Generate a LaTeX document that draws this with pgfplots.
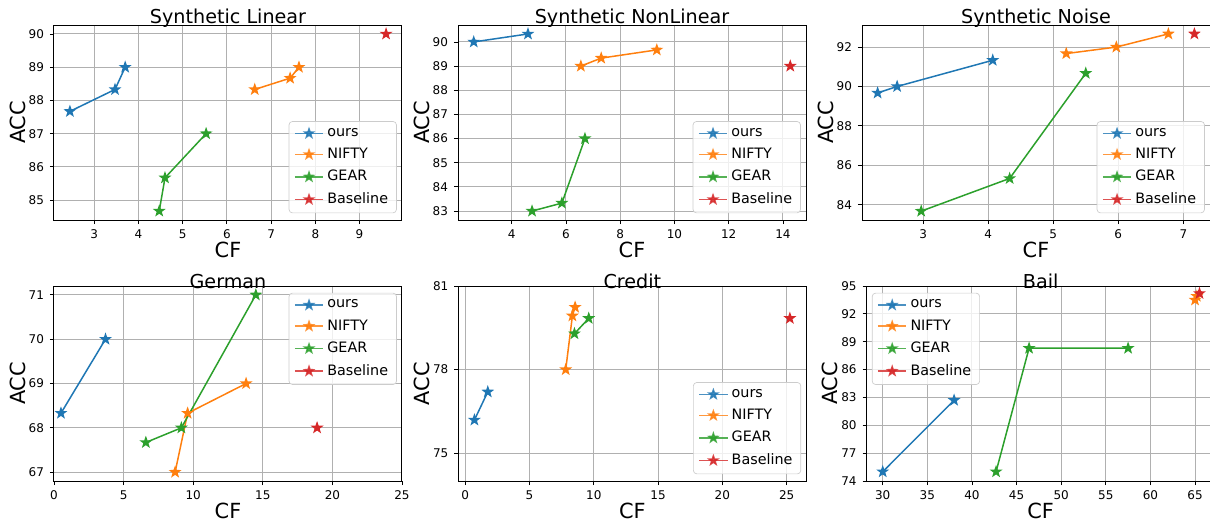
\documentclass[border=0pt]{standalone}
\usepackage{fontspec}
\setmainfont{DejaVu Sans}
\usepackage{pgfplots}
\pgfplotsset{compat=1.18}

\definecolor{c0}{HTML}{1F77B4}
\definecolor{c1}{HTML}{FF7F0E}
\definecolor{c2}{HTML}{2CA02C}
\definecolor{c3}{HTML}{D62728}
\definecolor{gridc}{RGB}{176,176,176}

% filled five-point star, like matplotlib's '*'
\pgfdeclareplotmark{fstar}{%
  \pgfpathmoveto{\pgfpointpolar{90}{\pgfplotmarksize}}%
  \pgfpathlineto{\pgfpointpolar{126}{0.4\pgfplotmarksize}}%
  \pgfpathlineto{\pgfpointpolar{162}{\pgfplotmarksize}}%
  \pgfpathlineto{\pgfpointpolar{198}{0.4\pgfplotmarksize}}%
  \pgfpathlineto{\pgfpointpolar{234}{\pgfplotmarksize}}%
  \pgfpathlineto{\pgfpointpolar{270}{0.4\pgfplotmarksize}}%
  \pgfpathlineto{\pgfpointpolar{306}{\pgfplotmarksize}}%
  \pgfpathlineto{\pgfpointpolar{342}{0.4\pgfplotmarksize}}%
  \pgfpathlineto{\pgfpointpolar{18}{\pgfplotmarksize}}%
  \pgfpathlineto{\pgfpointpolar{54}{0.4\pgfplotmarksize}}%
  \pgfpathclose
  \pgfusepathqfillstroke
}

\pgfplotsset{
  panel/.style={
    scale only axis,
    width=208.8pt, height=117pt,
    /pgf/number format/assume math mode=true,
    tick label style={font=\fontsize{7.2}{8}\selectfont},
    label style={font=\fontsize{12.5}{14}\selectfont},
    title style={font=\fontsize{11.5}{13}\selectfont, yshift=-11pt},
    xlabel={CF}, ylabel={ACC},
    xlabel style={yshift=5pt},
    ylabel style={yshift=-5pt},
    grid=major,
    major grid style={gridc, line width=0.6pt},
    axis line style={line width=0.6pt},
    tick pos=left, tick align=outside,
    major tick length=2.5pt,
    every tick/.style={black, line width=0.5pt},
    legend cell align=left,
    legend style={font=\fontsize{8.6}{10.5}\selectfont, draw=black!20,
      rounded corners=2pt, fill=white, fill opacity=0.8, text opacity=1,
      row sep=1.6pt, inner xsep=3pt, inner ysep=2pt},
    legend image post style={opacity=0.8},
    every axis plot/.append style={line width=0.9pt, mark=fstar, mark size=2.7pt},
  },
  se/.style={legend pos=south east, legend style={at={(0.985,0.035)}}},
}

\begin{document}
\begin{tikzpicture}
\useasboundingbox (0,0) rectangle (726pt,311.4pt);

% ---- Synthetic Linear
\begin{axis}[panel, se, at={(32.4pt,179.4pt)}, anchor=south west,
  title={Synthetic Linear},
  xmin=2.09, xmax=9.96, ymin=84.4, ymax=90.27,
  xtick={3,4,...,9}, ytick={85,86,...,90}]
\addplot[c0] coordinates {(2.45,87.67) (3.47,88.33) (3.70,89.0)};
\addplot[c1] coordinates {(6.63,88.33) (7.43,88.67) (7.63,89.0)};
\addplot[c2] coordinates {(4.47,84.67) (4.60,85.67) (5.53,87.0)};
\addplot[c3] coordinates {(9.60,90.0)};
\legend{ours, NIFTY, GEAR, Baseline}
\end{axis}

% ---- Synthetic NonLinear
\begin{axis}[panel, se, at={(274.8pt,179.4pt)}, anchor=south west,
  title={Synthetic NonLinear},
  xmin=2.02, xmax=14.85, ymin=82.63, ymax=90.7,
  xtick={4,6,...,14}, ytick={83,84,...,90}]
\addplot[c0] coordinates {(2.60,90.0) (4.60,90.33)};
\addplot[c1] coordinates {(6.55,89.0) (7.30,89.33) (9.35,89.67)};
\addplot[c2] coordinates {(4.75,83.0) (5.85,83.33) (6.70,86.0)};
\addplot[c3] coordinates {(14.27,89.0)};
\legend{ours, NIFTY, GEAR, Baseline}
\end{axis}

% ---- Synthetic Noise
\begin{axis}[panel, se, at={(517.2pt,179.4pt)}, anchor=south west,
  title={Synthetic Noise},
  xmin=2.06, xmax=7.41, ymin=83.22, ymax=93.12,
  xtick={3,4,...,7}, ytick={84,86,...,92}]
\addplot[c0] coordinates {(2.30,89.67) (2.60,90.0) (4.07,91.33)};
\addplot[c1] coordinates {(5.20,91.67) (5.97,92.0) (6.77,92.67)};
\addplot[c2] coordinates {(2.97,83.67) (4.33,85.33) (5.50,90.67)};
\addplot[c3] coordinates {(7.17,92.67)};
\legend{ours, NIFTY, GEAR, Baseline}
\end{axis}

% ---- German
\begin{axis}[panel, at={(32.4pt,22.8pt)}, anchor=south west,
  title={German},
  legend pos=north east, legend style={at={(0.985,0.965)}},
  xmin=0, xmax=25, ymin=66.8, ymax=71.2,
  xtick={0,5,...,25}, ytick={67,68,...,71}]
\addplot[c0] coordinates {(0.5,68.33) (3.7,70.0)};
\addplot[c1] coordinates {(8.7,67.0) (9.6,68.33) (13.8,69.0)};
\addplot[c2] coordinates {(6.6,67.67) (9.15,68.0) (14.5,71.0)};
\addplot[c3] coordinates {(18.9,68.0)};
\legend{ours, NIFTY, GEAR, Baseline}
\end{axis}

% ---- Credit
\begin{axis}[panel, se, at={(275pt,22.8pt)}, anchor=south west,
  title={Credit},
  xmin=-0.53, xmax=26.53, ymin=74, ymax=81,
  xtick={0,5,...,25}, ytick={75,78,81}]
\addplot[c0] coordinates {(0.72,76.19) (1.76,77.2)};
\addplot[c1] coordinates {(7.82,78.0) (8.34,79.93) (8.55,80.24)};
\addplot[c2] coordinates {(8.50,79.29) (9.61,79.84)};
\addplot[c3] coordinates {(25.25,79.84)};
\legend{ours, NIFTY, GEAR, Baseline}
\end{axis}

% ---- Bail
\begin{axis}[panel, at={(520pt,22.8pt)}, anchor=south west,
  title={Bail},
  legend pos=north west, legend style={at={(0.015,0.965)}},
  xmin=28.2, xmax=67.2, ymin=74, ymax=95,
  xtick={30,35,...,65}, ytick={74,77,...,95}]
\addplot[c0] coordinates {(30.0,75.0) (38.0,82.7)};
\addplot[c1] coordinates {(65.0,93.5) (65.2,93.9)};
\addplot[c2] coordinates {(42.7,75.0) (46.4,88.3) (57.5,88.3)};
\addplot[c3] coordinates {(65.5,94.2)};
\legend{ours, NIFTY, GEAR, Baseline}
\end{axis}
\end{tikzpicture}
\end{document}
